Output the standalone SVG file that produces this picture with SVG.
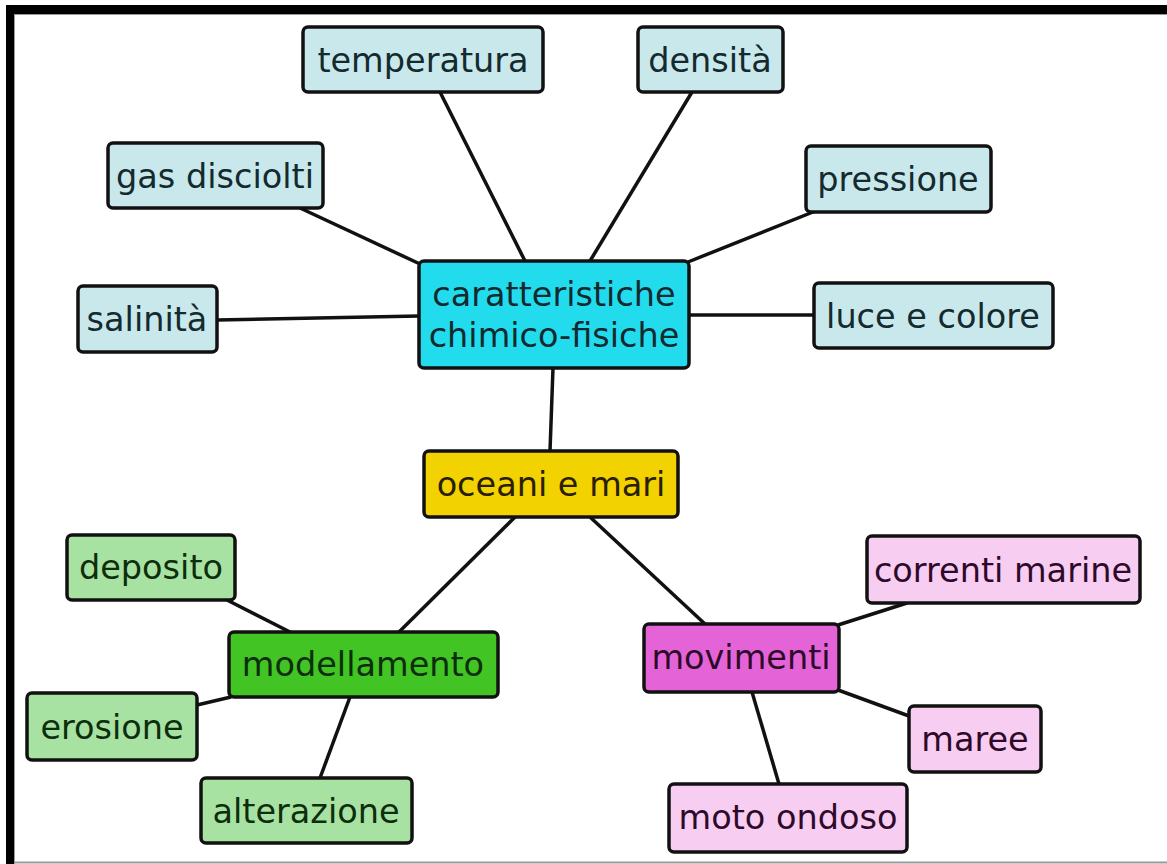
<svg xmlns="http://www.w3.org/2000/svg" width="1167" height="864" viewBox="0 0 1167 864">
<style>
.box{stroke:#111;stroke-width:3.5}
.blue{fill:#c8e8ec}
.cyan{fill:#22dcee}
.yellow{fill:#f2d200}
.green{fill:#42c424}
.lgreen{fill:#a8e2a2}
.mag{fill:#e464d8}
.pink{fill:#f8cdf2}
text{font-family:"DejaVu Sans",sans-serif;font-size:33.5px;text-anchor:middle}
.tb{fill:#142a2e}
.tg{fill:#0c2e0c}
.tp{fill:#2e0a2a}
.ty{fill:#2a2000}
.conn line{stroke:#111;stroke-width:3.5}
</style>
<rect width="1167" height="864" fill="#fff"/>
<rect x="6" y="5" width="1161" height="9" fill="#000"/>
<rect x="6" y="5" width="8" height="859" fill="#000"/>
<line x1="14" y1="14.5" x2="1167" y2="14.5" stroke="#999" stroke-width="1"/>
<line x1="14.5" y1="14" x2="14.5" y2="864" stroke="#999" stroke-width="1"/>
<line x1="14" y1="862.5" x2="1167" y2="862.5" stroke="#999" stroke-width="2"/>
<g class="conn" id="connectors">
<line x1="440" y1="92" x2="525" y2="261"/>
<line x1="692" y1="92" x2="590" y2="261"/>
<line x1="300" y1="208" x2="420" y2="264"/>
<line x1="818" y1="210" x2="688" y2="262"/>
<line x1="217" y1="320" x2="419" y2="316"/>
<line x1="689" y1="315" x2="814" y2="315"/>
<line x1="553" y1="368" x2="550" y2="451"/>
<line x1="515" y1="517" x2="399" y2="632"/>
<line x1="590" y1="517" x2="705" y2="624"/>
<line x1="227" y1="600" x2="290" y2="632"/>
<line x1="197" y1="705" x2="231" y2="697"/>
<line x1="350" y1="697" x2="320" y2="778"/>
<line x1="907" y1="603" x2="838" y2="625"/>
<line x1="838" y1="690" x2="909" y2="716"/>
<line x1="752" y1="692" x2="779" y2="784"/>
</g>
<g id="temperatura"><rect class="box blue" x="303" y="27" width="240" height="65" rx="5"/><text class="tb" x="423" y="72">temperatura</text></g>
<g id="densita"><rect class="box blue" x="638" y="27" width="145" height="65" rx="5"/><text class="tb" x="710" y="72">densità</text></g>
<g id="gas-disciolti"><rect class="box blue" x="108" y="143" width="215" height="65" rx="5"/><text class="tb" x="215" y="188">gas disciolti</text></g>
<g id="pressione"><rect class="box blue" x="806" y="146" width="185" height="66" rx="5"/><text class="tb" x="898" y="191">pressione</text></g>
<g id="luce-e-colore"><rect class="box blue" x="814" y="283" width="239" height="65" rx="5"/><text class="tb" x="933" y="328">luce e colore</text></g>
<g id="salinita"><rect class="box blue" x="78" y="286" width="139" height="66" rx="5"/><text class="tb" x="147" y="331">salinità</text></g>
<g id="caratteristiche"><rect class="box cyan" x="419" y="261" width="270" height="107" rx="5"/><text class="tb" x="554" y="306">caratteristiche</text><text class="tb" x="554" y="347">chimico-fisiche</text></g>
<g id="oceani-e-mari"><rect class="box yellow" x="424" y="451" width="254" height="66" rx="5"/><text class="ty" x="551" y="496">oceani e mari</text></g>
<g id="deposito"><rect class="box lgreen" x="67" y="535" width="168" height="65" rx="5"/><text class="tg" x="151" y="579">deposito</text></g>
<g id="modellamento"><rect class="box green" x="229" y="632" width="269" height="65" rx="5"/><text class="tg" x="363" y="676">modellamento</text></g>
<g id="erosione"><rect class="box lgreen" x="27" y="693" width="170" height="67" rx="5"/><text class="tg" x="112" y="739">erosione</text></g>
<g id="alterazione"><rect class="box lgreen" x="201" y="778" width="211" height="65" rx="5"/><text class="tg" x="306" y="823">alterazione</text></g>
<g id="movimenti"><rect class="box mag" x="644" y="624" width="195" height="68" rx="5"/><text class="tp" x="741" y="669">movimenti</text></g>
<g id="correnti-marine"><rect class="box pink" x="867" y="536" width="273" height="67" rx="5"/><text class="tp" x="1003" y="582">correnti marine</text></g>
<g id="maree"><rect class="box pink" x="909" y="706" width="132" height="66" rx="5"/><text class="tp" x="975" y="751">maree</text></g>
<g id="moto-ondoso"><rect class="box pink" x="669" y="784" width="238" height="68" rx="5"/><text class="tp" x="788" y="829">moto ondoso</text></g>
</svg>
